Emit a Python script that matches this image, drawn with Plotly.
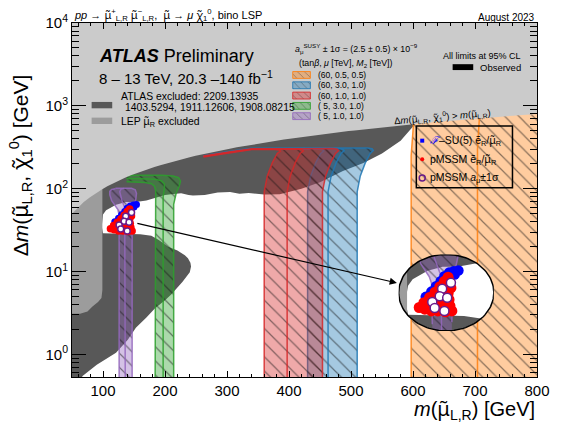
import numpy as np
import plotly.graph_objects as go

FONT = "Liberation Sans, Arial, Helvetica, sans-serif"

# ---------------- data (m in GeV, dm in GeV) ----------------
# ATLAS observed exclusion (combination), outline
atlas_m = [50, 62, 67, 90, 121, 140, 153, 170, 184, 200, 210, 228, 240, 242, 241, 237, 232, 220,
           205, 190, 178, 160, 137, 110, 100, 98, 98.5, 100, 105, 121, 137, 153, 170, 189, 200,
           210, 226, 238, 245, 264, 275, 285, 305, 320, 335, 360, 385, 420, 450, 487, 520, 550,
           580, 605, 605, 50]
atlas_dm = [0.3, 0.45, 0.55, 0.75, 1.05, 1.5, 2.1, 2.8, 3.6, 4.5, 5.3, 7.5, 9.8, 11.5, 12.8, 14.5,
            15.8, 18, 20, 24, 27, 28.3, 28.6, 28.6, 29, 35, 42, 49, 55, 64, 69, 69, 72, 79, 84,
            86, 88, 84, 83, 84, 88, 90, 91, 87, 89, 85, 86, 100, 120, 164, 205, 266, 380, 620,
            30000, 30000]

# LEP smuon_R exclusion outline
lep_m = [50, 63, 75, 83, 92, 97.5, 99, 99, 50]
lep_dm = [3.1, 3.1, 3.3, 3.8, 4.3, 4.8, 6, 1000, 1000]

# a_mu^SUSY +-1 sigma contours: lower edge, central value, upper edge
orange_lo = [(597, 0.3), (597, 250), (600, 500), (603, 1200)]
orange_c = [(704, 0.3), (704, 300), (707, 700), (710, 1500)]
orange_hi = [(815, 0.3), (815, 1500)]

blue_lo = [(430, 0.3), (430, 92), (435, 143), (443, 205), (451, 266), (456, 286), (454, 296),
           (447, 300), (400, 300), (340, 300), (300, 272), (262, 244)]
blue_c = [(463, 0.3), (463, 92), (468, 143), (476, 205), (484, 266), (489, 288), (487, 300),
          (480, 305), (430, 305), (340, 304), (300, 276), (262, 247)]
blue_hi = [(510, 0.3), (510, 92), (515, 143), (523, 205), (531, 266), (536, 290), (534, 304),
           (527, 310), (470, 310), (400, 309), (340, 308), (300, 280), (262, 250)]

red_lo = [(360, 0.3), (360, 92), (365, 143), (373, 205), (381, 266), (386, 284), (384, 293),
          (377, 297), (340, 297), (300, 269), (262, 242)]
red_c = [(397, 0.3), (397, 92), (402, 143), (410, 205), (418, 266), (423, 286), (421, 296),
         (414, 301), (370, 300), (340, 300), (300, 272), (262, 245)]
red_hi = [(454, 0.3), (454, 92), (459, 143), (467, 205), (475, 266), (480, 288), (478, 300),
          (471, 305), (420, 304), (340, 303), (300, 275), (262, 248)]

green_lo = [(184, 0.3), (184, 75), (185, 95), (183, 107), (178, 115), (168, 119), (150, 120),
            (138, 121)]
green_c = [(197, 0.3), (197, 80), (199, 100), (199, 115), (194, 125), (184, 130), (160, 132),
           (138, 133)]
green_hi = [(214, 0.3), (214, 65), (218, 88), (223, 108), (225, 124), (222, 136), (213, 142),
            (195, 145), (150, 145), (138, 144)]

purple_lo = [(126, 0.3), (126, 48), (124, 56), (119, 63), (114, 72), (111, 84), (111, 93),
             (114, 98), (120, 100)]
purple_c = [(136, 0.3), (136, 52), (135, 60), (131, 70), (128, 82), (127, 92), (129, 99),
            (134, 101)]
purple_hi = [(147, 0.3), (147, 50), (150, 62), (153, 75), (154, 88), (152, 97), (146, 101),
             (130, 102), (120, 101)]

band_labels = ["(60, 0.5, 0.5)", "(60, 3.0, 1.0)", "(60, 1.0, 1.0)", "( 5, 3.0, 1.0)",
               "( 5, 1.0, 1.0)"]

# model points
fsu5_m = [119, 125, 130, 135, 139, 144, 149, 154, 150, 146]
fsu5_dm = [40, 44, 48.5, 53, 58, 62, 63.5, 64.5, 60, 58]
pmssm_m = [112, 118, 125, 132, 140, 147, 117, 124, 131, 138, 145, 123, 130, 137, 144,
           129, 136, 143, 134, 141, 146, 139, 145, 143]
pmssm_dm = [33, 32, 31, 31, 30.5, 31, 36, 35.5, 35, 34.5, 34, 39.5, 39, 38.5, 38,
            43.5, 43, 42.5, 48, 47.5, 47, 53, 52, 57]
amu_m = [146, 136.6, 134, 142, 126, 128.6, 139]
amu_dm = [51.6, 46.4, 40.5, 39.4, 36.4, 32.7, 31]

x_major = [100, 200, 300, 400, 500, 600, 700, 800]
y_major = [1, 10, 100, 1000, 10000]
y_major_text = ["10<sup>0</sup>", "10<sup>1</sup>", "10<sup>2</sup>", "10<sup>3</sup>",
                "10<sup>4</sup>"]

# ---------------- layout geometry ----------------
W, H = 562, 428
L, R, T, B = 72, 16, 16, 51
M_MIN, M_MAX = 50, 800
LOG_MIN, LOG_MAX = -0.272, 4.0

def px(x):
    return (x - L) / (W - L - R)

def py(y):
    return (H - B - y) / (H - B - T)

# zoomed view shown in the ellipse
X0, X1 = 90.0, 192.0
Y0, Y1 = 1.335, 1.935

COL = {
    "orange": (255, 127, 14),
    "blue": (31, 119, 180),
    "red": (214, 39, 40),
    "green": (44, 160, 44),
    "purple": (148, 103, 189),
}
bands = [
    ("orange", orange_lo, orange_c, orange_hi),
    ("blue", blue_lo, blue_c, blue_hi),
    ("red", red_lo, red_c, red_hi),
    ("green", green_lo, green_c, green_hi),
    ("purple", purple_lo, purple_c, purple_hi),
]

def xy(pts):
    return [p[0] for p in pts], [p[1] for p in pts]

def rgba(rgb, a):
    return f"rgba({rgb[0]},{rgb[1]},{rgb[2]},{a})"

def hatch(rgb, size=10):
    return dict(shape="\\", size=size, solidity=0.12, fgcolor="rgba(20,20,20,1)",
                fgopacity=0.5, bgcolor=rgba(rgb, 0.4), fillmode="replace")

fig = go.Figure()

def add_area(x, y, color, xa="x", ya="y", pattern=None):
    kw = dict(fillpattern=pattern) if pattern else {}
    fig.add_trace(go.Scatter(x=x, y=y, mode="lines", fill="toself", fillcolor=color,
                             line=dict(width=0, color=color), hoverinfo="skip",
                             xaxis=xa, yaxis=ya, **kw))

def add_line(x, y, color, width=1.5, xa="x", ya="y"):
    fig.add_trace(go.Scatter(x=x, y=y, mode="lines", line=dict(color=color, width=width),
                             hoverinfo="skip", xaxis=xa, yaxis=ya))

# ATLAS exclusion and LEP
add_area(atlas_m, atlas_dm, "#585858")
add_area(lep_m, lep_dm, "#9c9c9c")

# a_mu bands
for name, lo, c, hi in bands:
    rgb = COL[name]
    bx, by = xy(lo + hi[::-1])
    add_area(bx, by, rgba(rgb, 0.4), pattern=hatch(rgb))
    for edge in (lo, c, hi):
        ex, ey = xy(edge)
        add_line(ex, ey, rgba(rgb, 0.85))

# kinematically forbidden region dm > m
kin = np.linspace(M_MIN, M_MAX, 80)
add_area(list(kin) + [M_MAX, M_MIN], list(kin) + [1e5, 1e5], "#cbcbcb")

# model points
def add_points(x, y, color, size, xa="x", ya="y", open_circle=False):
    if open_circle:
        marker = dict(size=size, color="white", line=dict(color="#6a1b8a", width=1.5))
    else:
        marker = dict(size=size, color=color, line=dict(width=0))
    fig.add_trace(go.Scatter(x=x, y=y, mode="markers", marker=marker, hoverinfo="skip",
                             xaxis=xa, yaxis=ya))

add_points(fsu5_m, fsu5_dm, "#0000ff", 7)
add_points(pmssm_m, pmssm_dm, "#ff0000", 7.5)
add_points(amu_m, amu_dm, None, 6, open_circle=True)

# ---------------- magnified view inside an ellipse ----------------
def to_uv(ms, dms):
    return [((m - X0) / (X1 - X0), (np.log10(d) - Y0) / (Y1 - Y0)) for m, d in zip(ms, dms)]

def from_uv(pts):
    return ([X0 + u * (X1 - X0) for u, v in pts], [10 ** (Y0 + v * (Y1 - Y0)) for u, v in pts])

ELL_T = np.linspace(0, 2 * np.pi, 120, endpoint=False)
ELL = [(0.5 + 0.5 * np.cos(a), 0.5 + 0.5 * np.sin(a)) for a in ELL_T]

def clip_polygon(ms, dms):
    out = to_uv(ms, dms)
    n = len(ELL)
    for i in range(n):
        ax_, ay_ = ELL[i]
        bx_, by_ = ELL[(i + 1) % n]
        dx, dy = bx_ - ax_, by_ - ay_

        def side(p):
            return dx * (p[1] - ay_) - dy * (p[0] - ax_)

        inp, out = out, []
        if not inp:
            break
        s = inp[-1]
        for e in inp:
            se, ss = side(e), side(s)
            if se >= 0:
                if ss < 0:
                    t = ss / (ss - se)
                    out.append((s[0] + t * (e[0] - s[0]), s[1] + t * (e[1] - s[1])))
                out.append(e)
            elif ss >= 0:
                t = ss / (ss - se)
                out.append((s[0] + t * (e[0] - s[0]), s[1] + t * (e[1] - s[1])))
            s = e
    return from_uv(out)

def clip_polyline(ms, dms, steps=30):
    uv = to_uv(ms, dms)
    xs, ys = [], []
    for (u0, v0), (u1, v1) in zip(uv[:-1], uv[1:]):
        for k in range(steps + 1):
            f = k / steps
            u, v = u0 + f * (u1 - u0), v0 + f * (v1 - v0)
            if (u - 0.5) ** 2 + (v - 0.5) ** 2 <= 0.25:
                xs.append(X0 + u * (X1 - X0))
                ys.append(10 ** (Y0 + v * (Y1 - Y0)))
            else:
                xs.append(None)
                ys.append(None)
    return xs, ys

ell_x, ell_y = from_uv(ELL + [ELL[0]])
add_area(ell_x, ell_y, "white", "x2", "y2")
cx, cy = clip_polygon(atlas_m, atlas_dm)
add_area(cx, cy, "#585858", "x2", "y2")
cx, cy = clip_polygon(lep_m, lep_dm)
add_area(cx, cy, "#9c9c9c", "x2", "y2")
for name, lo, c, hi in bands:
    if name != "purple":
        continue
    rgb = COL[name]
    bx, by = xy(lo + hi[::-1])
    cx, cy = clip_polygon(bx, by)
    if len(cx) > 2:
        add_area(cx, cy, rgba(rgb, 0.4), "x2", "y2", pattern=hatch(rgb))
    for edge in (lo, c, hi):
        ex, ey = xy(edge)
        lx, ly = clip_polyline(ex, ey)
        add_line(lx, ly, rgba(rgb, 0.85), 1.5, "x2", "y2")
add_points(fsu5_m, fsu5_dm, "#0000ff", 10.5, "x2", "y2")
add_points(pmssm_m, pmssm_dm, "#ff0000", 11, "x2", "y2")
add_points(amu_m, amu_dm, None, 9, "x2", "y2", open_circle=True)
add_line(ell_x, ell_y, "black", 1.5, "x2", "y2")

# ---------------- legend swatches (plot-area fractions) ----------------
def rect(x0, y0, x1, y1):
    return [x0, x1, x1, x0, x0], [y0, y0, y1, y1, y0]

row_y = [69, 79.5, 90, 100.5, 111]
for (name, _, _, _), yy in zip(bands, row_y):
    rgb = COL[name]
    rx, ry = rect(px(297), py(yy + 3.5), px(315), py(yy - 3.5))
    fig.add_trace(go.Scatter(x=rx, y=ry, mode="lines", fill="toself",
                             fillcolor=rgba(rgb, 0.4), fillpattern=hatch(rgb, 5),
                             line=dict(color=rgba(rgb, 0.85), width=1), hoverinfo="skip",
                             xaxis="x3", yaxis="y3"))

BOX_Y = [136, 155, 174]
fig.add_trace(go.Scatter(x=[px(429)], y=[py(BOX_Y[0])], mode="markers", xaxis="x3", yaxis="y3",
                         marker=dict(symbol="square", size=4, color="#0000ff"), hoverinfo="skip"))
fig.add_trace(go.Scatter(x=[px(429)], y=[py(BOX_Y[1])], mode="markers", xaxis="x3", yaxis="y3",
                         marker=dict(symbol="circle", size=4, color="#ff0000"), hoverinfo="skip"))
fig.add_trace(go.Scatter(x=[px(429)], y=[py(BOX_Y[2])], mode="markers", xaxis="x3", yaxis="y3",
                         marker=dict(symbol="circle-open", size=6, color="#6a1b8a",
                                     line=dict(width=1.5)), hoverinfo="skip"))

# carrier trace for the minor-tick axes
fig.add_trace(go.Scatter(x=[M_MIN], y=[1], mode="markers", marker=dict(size=0, opacity=0),
                         xaxis="x4", yaxis="y4", hoverinfo="skip"))

shapes = [
    dict(type="rect", xref="paper", yref="paper", x0=px(92), x1=px(113), y0=py(103),
         y1=py(96.5), fillcolor="#585858", line=dict(width=0)),
    dict(type="rect", xref="paper", yref="paper", x0=px(92), x1=px(113), y0=py(119),
         y1=py(112.5), fillcolor="#9c9c9c", line=dict(width=0)),
    dict(type="rect", xref="paper", yref="paper", x0=px(460), x1=px(481), y0=py(64),
         y1=py(58), fillcolor="black", line=dict(width=0)),
    dict(type="rect", xref="paper", yref="paper", x0=px(423), x1=px(521), y0=py(184),
         y1=py(121), fillcolor="rgba(0,0,0,0)", line=dict(color="black", width=1.5)),
]

def note(text, x, y, size, xanchor="left", yanchor="middle", angle=0, color="black"):
    return dict(text=text, x=x, y=y, xref="paper", yref="paper", xanchor=xanchor,
                yanchor=yanchor, showarrow=False, textangle=angle,
                font=dict(family=FONT, size=size, color=color))

mu = "<span style='font-family:Noto Sans'>μ̃</span>"
chi = "<span style='font-family:Noto Sans'>χ̃</span>"
annotations = [
    note(f"<i>pp</i> → {mu}<sup>+</sup><sub>L,R</sub> {mu}<sup>−</sup><sub>L,R</sub>,  "
         f"{mu} → <i>μ</i> {chi}<sub>1</sub><sup>0</sup>, bino LSP", px(72), py(8), 11),
    note("August 2023", 1.0, py(10), 10, xanchor="right"),
    note("<b><i>ATLAS</i></b> Preliminary", px(97), py(50), 18),
    note("8 – 13 TeV, 20.3 –140 fb<sup>−1</sup>", px(97), py(72), 15),
    note("ATLAS excluded: 2209.13935", px(120), py(91), 10.4),
    note("1403.5294, 1911.12606, 1908.08215", px(124), py(102), 10.4),
    note(f"LEP {mu}<sub>R</sub> excluded", px(120), py(116), 10.4),
    note("<i>a</i><sub>μ</sub><sup>SUSY</sup> ± 1σ = (2.5 ± 0.5) × 10<sup>−9</sup>",
         px(297), py(42), 8.8),
    note("(tan<i>β</i>, <i>μ</i> [TeV], <i>M</i><sub>2</sub> [TeV])", px(301), py(57), 8.8),
    note("All limits at 95% CL", px(448), py(50), 9),
    note("Observed", px(486), py(61), 9.5),
    note(f"Δ<i>m</i>({mu}<sub>L,R</sub>, {chi}<sub>1</sub><sup>0</sup>) > <i>m</i>({mu}<sub>L,R</sub>)",
         px(450), py(111), 9.5, xanchor="center", angle=-5),
    note(f"<span style='color:#0000ff'><i>ℱ</i></span>–SU(5) ẽ<sub>R</sub>/{mu}<sub>R</sub>",
         px(435), py(BOX_Y[0]), 10.5),
    note(f"pMSSM ẽ<sub>R</sub>/{mu}<sub>R</sub>", px(435), py(BOX_Y[1]), 10.5),
    note("pMSSM <i>a</i><sub>μ</sub>±1σ", px(435), py(BOX_Y[2]), 10.5),
    note(f"<i>m</i>({mu}<sub>L,R</sub>) [GeV]", 1.0, py(410), 20, xanchor="right"),
    note(f"Δ<i>m</i>({mu}<sub>L,R</sub>, {chi}<sub>1</sub><sup>0</sup>) [GeV]", px(19), py(161),
         21, xanchor="center", angle=-90),
]
for lab, yy in zip(band_labels, row_y):
    annotations.append(note(lab, px(321), py(yy), 8.5))

# arrow from the point cluster to the magnified view
annotations.append(dict(x=574, y=np.log10(7.3), ax=153, ay=np.log10(38.5), xref="x", yref="y",
                        axref="x", ayref="y", text="", showarrow=True, arrowhead=2,
                        arrowsize=1.2, arrowwidth=1.2, arrowcolor="black", standoff=0))

y_minor = [k * 10 ** e for e in range(-1, 4) for k in range(2, 10) if 0.54 < k * 10 ** e < 10000]

axis_common = dict(showline=True, linecolor="black", linewidth=1, mirror="allticks",
                   showgrid=False, zeroline=False, ticks="inside", tickcolor="black",
                   tickwidth=1, tickfont=dict(family=FONT, size=15, color="black"))

fig.update_layout(
    width=W, height=H,
    margin=dict(l=L, r=R, t=T, b=B, pad=0),
    paper_bgcolor="white", plot_bgcolor="rgba(0,0,0,0)",
    showlegend=False,
    font=dict(family=FONT, color="black"),
    xaxis=dict(range=[M_MIN, M_MAX], tickmode="array", tickvals=x_major, ticklen=6,
               **axis_common),
    yaxis=dict(type="log", range=[LOG_MIN, LOG_MAX], tickmode="array", tickvals=y_major,
               ticktext=y_major_text, ticklen=14, **axis_common),
    xaxis4=dict(overlaying="x", anchor="y", range=[M_MIN, M_MAX], tickmode="linear", tick0=0,
                dtick=20, ticks="inside", ticklen=3, tickcolor="black", mirror="allticks",
                showticklabels=False, showgrid=False, zeroline=False, showline=False),
    yaxis4=dict(overlaying="y", anchor="x", type="log", range=[LOG_MIN, LOG_MAX],
                tickmode="array", tickvals=y_minor, ticks="inside", ticklen=7,
                tickcolor="black", mirror="allticks", showticklabels=False, showgrid=False,
                zeroline=False, showline=False),
    xaxis2=dict(domain=[px(405), px(502)], range=[X0, X1], anchor="y2", visible=False),
    yaxis2=dict(domain=[py(330), py(252)], range=[Y0, Y1], type="log", anchor="x2",
                visible=False),
    xaxis3=dict(domain=[0, 1], range=[0, 1], anchor="y3", visible=False),
    yaxis3=dict(domain=[0, 1], range=[0, 1], anchor="x3", visible=False),
    shapes=shapes,
    annotations=annotations,
)

fig.write_html("out.html", config={"displayModeBar": False})
